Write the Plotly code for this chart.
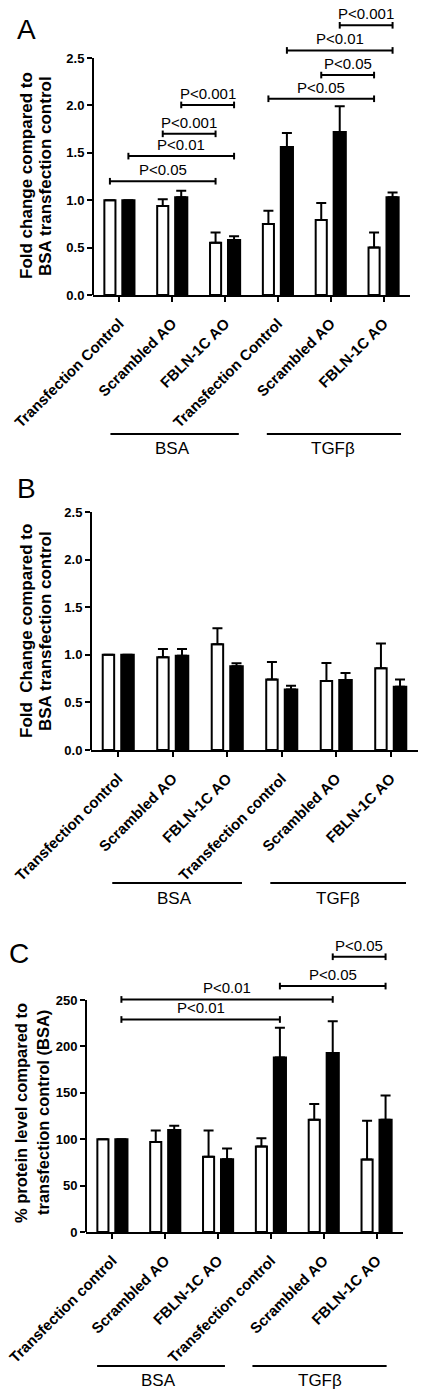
import plotly.graph_objects as go

W, H = 423, 1395

# ---------------- data ----------------
groups = [0, 1, 2, 3, 4, 5]
cats_A = ["Transfection Control", "Scrambled AO", "FBLN-1C AO",
          "Transfection Control", "Scrambled AO", "FBLN-1C AO"]
cats_BC = ["Transfection control", "Scrambled AO", "FBLN-1C AO",
           "Transfection control", "Scrambled AO", "FBLN-1C AO"]

A_white = [1.00, 0.94, 0.55, 0.75, 0.79, 0.50]
A_white_err = [0, 0.07, 0.11, 0.14, 0.18, 0.16]
A_black = [1.00, 1.03, 0.58, 1.56, 1.72, 1.03]
A_black_err = [0, 0.07, 0.04, 0.15, 0.27, 0.05]

B_white = [1.00, 0.975, 1.11, 0.74, 0.725, 0.86]
B_white_err = [0, 0.085, 0.17, 0.185, 0.19, 0.26]
B_black = [1.00, 0.99, 0.88, 0.635, 0.735, 0.665]
B_black_err = [0, 0.07, 0.03, 0.04, 0.075, 0.075]

C_white = [100, 97, 81, 92, 121, 78]
C_white_err = [0, 12.5, 28.5, 9, 17, 42]
C_black = [100, 110, 78.5, 188, 193, 121]
C_black_err = [0, 4.5, 11.5, 32, 34, 26]

A_ticks = [0.0, 0.5, 1.0, 1.5, 2.0, 2.5]
A_ticklabels = ["0.0", "0.5", "1.0", "1.5", "2.0", "2.5"]
C_ticks = [0, 50, 100, 150, 200, 250]
C_ticklabels = ["0", "50", "100", "150", "200", "250"]

# brackets: (group1, series1, group2, series2, y, label)
A_brackets = [
    (0, "w", 2, "w", 1.20, "P<0.05"),
    (0, "b", 2, "b", 1.465, "P<0.01"),
    (1, "w", 2, "w", 1.70, "P<0.001"),
    (1, "b", 2, "b", 2.005, "P<0.001"),
    (3, "w", 5, "w", 2.07, "P<0.05"),
    (4, "w", 5, "w", 2.32, "P<0.05"),
    (3, "b", 5, "b", 2.58, "P<0.01"),
    (4, "b", 5, "b", 2.845, "P<0.001"),
]
C_brackets = [
    (0, "b", 3, "b", 229, "P<0.01"),
    (0, "b", 4, "b", 250.6, "P<0.01"),
    (3, "b", 5, "b", 265, "P<0.05"),
    (4, "b", 5, "b", 296.6, "P<0.05"),
]

group_names = ["BSA", "TGFβ"]

# ---------------- layout geometry ----------------
FONT = "Liberation Sans, Arial, Helvetica, sans-serif"

panels = [
    dict(key="", letter="A", cats=cats_A, white=A_white, werr=A_white_err,
         black=A_black, berr=A_black_err, ticks=A_ticks, tlabels=A_ticklabels,
         brackets=A_brackets, xdom=[93 / W, 410 / W], ydom=[1 - 295 / H, 1.0],
         yrange=[0, 295 / 94.8], cap=0.035,
         title=["Fold change compared to", "BSA transfection control"],
         title_x=(26, 45), title_y=176, title_size=17, letter_xy=(27, 30),
         gline_y=434, glabel_y=448,
         glines=[(-0.17, 2.26), (2.79, 5.33)], glabel_x=[1.0, 4.04]),
    dict(key="2", letter="B", cats=cats_BC, white=B_white, werr=B_white_err,
         black=B_black, berr=B_black_err, ticks=A_ticks, tlabels=A_ticklabels,
         brackets=[], xdom=[91 / W, 418 / W], ydom=[1 - 750 / H, 1 - 512 / H],
         yrange=[0, 2.5], cap=0.035,
         title=["Fold  Change compared to", "BSA transfection control"],
         title_x=(26, 45), title_y=631, title_size=17, letter_xy=(26, 488),
         gline_y=883, glabel_y=898,
         glines=[(-0.11, 2.27), (2.79, 5.28)], glabel_x=[1.03, 4.04]),
    dict(key="3", letter="C", cats=cats_BC, white=C_white, werr=C_white_err,
         black=C_black, berr=C_black_err, ticks=C_ticks, tlabels=C_ticklabels,
         brackets=C_brackets, xdom=[86 / W, 403 / W], ydom=[1 - 1232 / H, 1 - 935 / H],
         yrange=[0, 297 / 0.928], cap=3.6,
         title=["% protein level compared to", "transfection control (BSA)"],
         title_x=(21, 43), title_y=1113, title_size=16.5, letter_xy=(19, 953),
         gline_y=1366, glabel_y=1380,
         glines=[(-0.29, 2.13), (2.65, 5.19)], glabel_x=[0.88, 3.92]),
]

W_OFF, W_WID = -0.285, 0.21
B_OFF, B_WID = 0.055, 0.23
centers = {"w": W_OFF + W_WID / 2, "b": B_OFF + B_WID / 2}

fig = go.Figure()
shapes = []
annotations = []
layout_axes = {}

for p in panels:
    k = p["key"]
    xa, ya = "x" + k, "y" + k
    err_style = dict(type="data", symmetric=False, color="black", thickness=2, width=5)
    fig.add_trace(go.Bar(
        x=groups, y=p["white"], xaxis=xa, yaxis=ya, offset=W_OFF, width=W_WID,
        marker=dict(color="white", line=dict(color="black", width=2)),
        error_y=dict(array=p["werr"], arrayminus=[0] * len(groups), **err_style),
        showlegend=False, hoverinfo="skip"))
    fig.add_trace(go.Bar(
        x=groups, y=p["black"], xaxis=xa, yaxis=ya, offset=B_OFF, width=B_WID,
        marker=dict(color="black", line=dict(color="black", width=2)),
        error_y=dict(array=p["berr"], arrayminus=[0] * len(groups), **err_style),
        showlegend=False, hoverinfo="skip"))

    # significance brackets
    for (g1, s1, g2, s2, yv, lab) in p["brackets"]:
        x1 = g1 + centers[s1]
        x2 = g2 + centers[s2]
        c = p["cap"]
        fig.add_trace(go.Scatter(
            x=[x1, x2, None, x1, x1, None, x2, x2],
            y=[yv, yv, None, yv - c, yv + c, None, yv - c, yv + c],
            xaxis=xa, yaxis=ya, mode="lines",
            line=dict(color="black", width=2), showlegend=False,
            hoverinfo="skip", cliponaxis=False))
        annotations.append(dict(
            x=(x1 + x2) / 2, y=yv, xref=xa, yref=ya, text=lab, showarrow=False,
            yanchor="bottom", xanchor="center", yshift=1,
            font=dict(family=FONT, size=15, color="black")))

    # y-axis line limited to the tick range
    shapes.append(dict(type="line", xref="paper", yref=ya,
                       x0=p["xdom"][0], x1=p["xdom"][0],
                       y0=0, y1=p["ticks"][-1],
                       line=dict(color="black", width=2)))

    # group lines and labels
    for (gx0, gx1), gname, lx in zip(p["glines"], group_names, p["glabel_x"]):
        shapes.append(dict(type="line", xref=xa, yref="paper",
                           x0=gx0, x1=gx1,
                           y0=1 - p["gline_y"] / H, y1=1 - p["gline_y"] / H,
                           line=dict(color="black", width=2)))
        annotations.append(dict(
            x=lx, y=1 - p["glabel_y"] / H, xref=xa, yref="paper", text=gname,
            showarrow=False, xanchor="center", yanchor="middle",
            font=dict(family=FONT, size=17, color="black")))

    # y title (two lines, tight spacing)
    for line_txt, tx in zip(p["title"], p["title_x"]):
        annotations.append(dict(
            x=tx / W, y=1 - p["title_y"] / H, xref="paper", yref="paper",
            text=line_txt, textangle=-90, showarrow=False,
            xanchor="center", yanchor="middle",
            font=dict(family=FONT, size=p["title_size"], color="black", weight="bold")))

    # panel letter
    lx_, ly_ = p["letter_xy"]
    annotations.append(dict(
        x=lx_ / W, y=1 - ly_ / H, xref="paper", yref="paper", text=p["letter"],
        showarrow=False, xanchor="center", yanchor="middle",
        font=dict(family=FONT, size=28, color="black")))

    layout_axes["xaxis" + k] = dict(
        domain=p["xdom"], anchor=ya, range=[-0.5, 5.5], automargin=False,
        tickmode="array", tickvals=groups, ticktext=p["cats"], tickangle=-45,
        ticks="outside", ticklen=5, tickwidth=2, tickcolor="black",
        ticklabelstandoff=7,
        showline=True, linewidth=2, linecolor="black", showgrid=False,
        zeroline=False, fixedrange=True,
        tickfont=dict(family=FONT, size=15, color="black", weight="bold"))
    layout_axes["yaxis" + k] = dict(
        domain=p["ydom"], anchor=xa, range=p["yrange"], automargin=False,
        tickmode="array", tickvals=p["ticks"], ticktext=p["tlabels"],
        ticks="outside", ticklen=5, tickwidth=2, tickcolor="black",
        showline=False, showgrid=False, zeroline=False, fixedrange=True,
        tickfont=dict(family=FONT, size=13, color="black", weight="bold"))

fig.update_layout(
    template="none",
    width=W, height=H, margin=dict(l=0, r=0, t=0, b=0, autoexpand=False),
    paper_bgcolor="white", plot_bgcolor="white",
    barmode="overlay", shapes=shapes, annotations=annotations,
    font=dict(family=FONT, color="black"), showlegend=False,
    **layout_axes)

fig.write_html(
    "out.html",
    config={"displayModeBar": False},
    post_script="document.body.style.margin='0px';document.body.style.overflow='hidden';",
)
